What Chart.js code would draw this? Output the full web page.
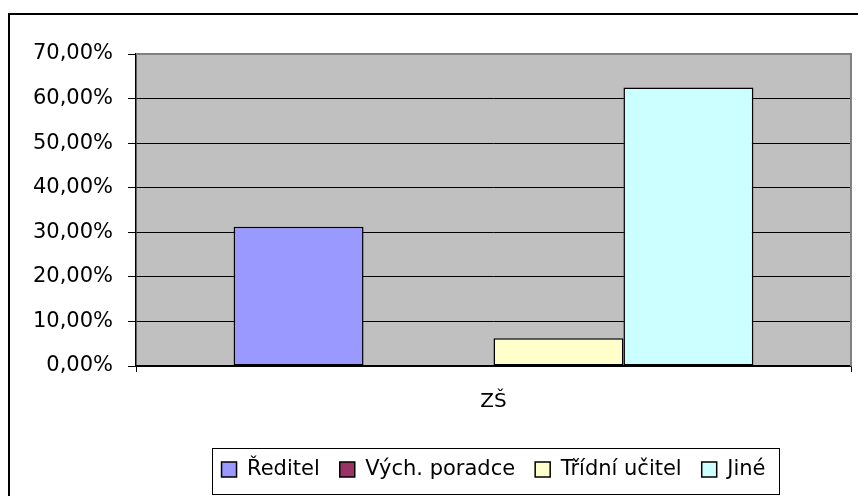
<!DOCTYPE html>
<html>
<head>
<meta charset="utf-8">
<script src="https://cdn.jsdelivr.net/npm/chart.js@4.4.1/dist/chart.umd.min.js"></script>
<style>
  html, body { margin: 0; padding: 0; background: #ffffff; }
  #wrap { width: 858px; height: 496px; }
</style>
</head>
<body>
<div id="wrap"><canvas id="chart" width="858" height="496"></canvas></div>
<script>
const categories = ['ZŠ'];
const seriesNames = ['Ředitel', 'Vých. poradce', 'Třídní učitel', 'Jiné'];
const seriesValues = [[31.25], [0], [6.25], [62.5]];
const seriesColors = ['#9999FF', '#993366', '#FFFFCC', '#CCFFFF'];
const yTickLabels = ['0,00%', '10,00%', '20,00%', '30,00%', '40,00%', '50,00%', '60,00%', '70,00%'];

const fontFamily = '"DejaVu Sans", "Liberation Sans", Arial, sans-serif';

// grey plot wall + outer frame + legend box, like the old Excel chart
const frame = {
    id: 'frame',
    beforeDraw(chart) {
        const { ctx, chartArea: a } = chart;
        ctx.save();
        ctx.fillStyle = '#ffffff';
        ctx.fillRect(0, 0, chart.width, chart.height);
        ctx.fillStyle = '#C0C0C0';
        ctx.fillRect(a.left, a.top, a.right - a.left, a.bottom - a.top);
        ctx.restore();
    },
    afterDatasetsDraw(chart) {
        const { ctx, chartArea: a } = chart;
        ctx.save();
        ctx.strokeStyle = '#808080';
        ctx.lineWidth = 2;
        ctx.beginPath();
        ctx.moveTo(a.left, a.top);
        ctx.lineTo(a.right, a.top);
        ctx.lineTo(a.right, a.bottom);
        ctx.stroke();
        ctx.restore();
    },
    afterDraw(chart) {
        const ctx = chart.ctx;
        ctx.save();
        ctx.strokeStyle = '#000000';
        ctx.lineWidth = 2;
        ctx.strokeRect(9, 14, 1000, 1000);

        const boxes = chart.legend.legendHitBoxes;
        if (boxes && boxes.length) {
            const first = boxes[0];
            const last = boxes[boxes.length - 1];
            const l = Math.round(first.left - 10) + 0.5;
            const r = Math.round(last.left + last.width + 14) + 0.5;
            const t = Math.round(first.top - 11) + 0.5;
            const b = Math.round(first.top + first.height + 14) + 0.5;
            ctx.lineWidth = 1;
            ctx.strokeRect(l, t, r - l, b - t);
        }
        ctx.restore();
    }
};

new Chart(document.getElementById('chart').getContext('2d'), {
    type: 'bar',
    data: {
        labels: categories,
        datasets: seriesNames.map((name, i) => ({
            label: name,
            data: seriesValues[i],
            backgroundColor: seriesColors[i],
            borderColor: '#000000',
            borderWidth: 1.5,
            borderSkipped: false,
            categoryPercentage: 0.727,
            barPercentage: 1.0
        }))
    },
    options: {
        responsive: false,
        animation: false,
        devicePixelRatio: 1,
        layout: { padding: { top: 54, right: 7, bottom: 6, left: 0 } },
        plugins: {
            tooltip: { enabled: false },
            legend: {
                position: 'bottom',
                fullSize: false,
                labels: {
                    boxWidth: 15,
                    boxHeight: 15,
                    padding: 20,
                    color: '#000000',
                    font: { family: fontFamily, size: 21 }
                }
            }
        },
        scales: {
            x: {
                afterFit(scale) { scale.height = 73; },
                grid: {
                    drawOnChartArea: false,
                    tickLength: 6,
                    color: '#000000',
                    lineWidth: 1
                },
                border: { color: '#000000', width: 1.5 },
                ticks: {
                    color: '#000000',
                    padding: 18,
                    font: { family: fontFamily, size: 20 }
                }
            },
            y: {
                min: 0,
                max: 70,
                afterFit(scale) { scale.width = 136; },
                grid: {
                    color: (c) => (c.tick && c.tick.value === 70 ? 'rgba(0,0,0,0)' : '#000000'),
                    tickColor: '#000000',
                    tickLength: 8,
                    lineWidth: 1
                },
                border: { color: '#000000', width: 1.5 },
                ticks: {
                    stepSize: 10,
                    padding: 15,
                    color: '#000000',
                    font: { family: fontFamily, size: 21 },
                    callback: (value, index) => yTickLabels[index]
                }
            }
        }
    },
    plugins: [frame]
});
</script>
</body>
</html>
